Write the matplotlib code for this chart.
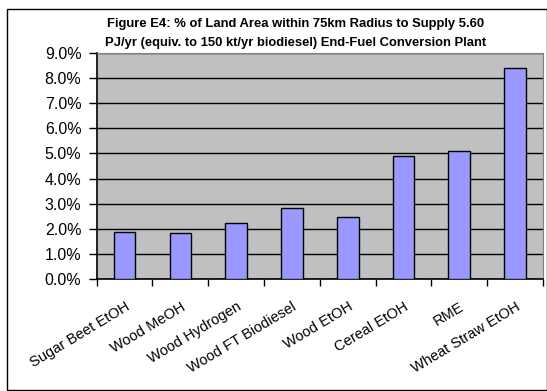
import numpy as np
import matplotlib.pyplot as plt
from matplotlib.patches import Rectangle
from matplotlib.transforms import ScaledTranslation

plt.rcParams['font.family'] = ['Liberation Sans', 'DejaVu Sans']

# data
fuels = ['Sugar Beet EtOH', 'Wood MeOH', 'Wood Hydrogen', 'Wood FT Biodiesel',
         'Wood EtOH', 'Cereal EtOH', 'RME', 'Wheat Straw EtOH']
land_pct = [1.88, 1.84, 2.24, 2.84, 2.47, 4.89, 5.08, 8.42]
yticks = np.arange(0, 10, 1)

W, H = 547, 391
fig = plt.figure(figsize=(W / 100, H / 100), dpi=100)

# outer chart frame
fig.patches.append(Rectangle((7 / W, 1 - 390 / H), 539.5 / W, 381 / H,
                             transform=fig.transFigure, fill=False,
                             edgecolor='black', linewidth=1.0))

ax = fig.add_axes([96.7 / W, 1 - 279 / H, 446.3 / W, 226 / H])
ax.set_facecolor('#C0C0C0')

x = np.arange(len(fuels))
ax.bar(x, land_pct, width=0.39, color='#9999FF', edgecolor='black',
       linewidth=1.0, zorder=3)

ax.set_xlim(-0.5, len(fuels) - 0.5)
ax.set_ylim(0, 9)
ax.set_yticks(yticks)
ax.set_yticklabels(['%.1f%%' % v for v in yticks], fontsize=11.5)
ax.yaxis.grid(True, color='black', linewidth=1.0, zorder=1)
ax.set_axisbelow(True)

# category ticks sit between the bars, labels under the bar centres
ax.set_xticks(np.arange(len(fuels) + 1) - 0.5)
ax.set_xticklabels([])
ax.set_xticks(x, minor=True)
ax.set_xticklabels(fuels, minor=True, rotation=31, ha='right',
                   rotation_mode='anchor', fontsize=10.5)
shift = ScaledTranslation(-5 / 72, 0, fig.dpi_scale_trans)
for lbl in ax.get_xticklabels(minor=True):
    lbl.set_transform(lbl.get_transform() + shift)
ax.tick_params(axis='x', which='minor', length=0, pad=15)
ax.tick_params(axis='x', which='major', length=5, width=1, direction='out')
ax.tick_params(axis='y', length=6, width=1, direction='out', pad=5)

for s in ['top', 'right']:
    ax.spines[s].set_color('#808080')
for s in ['left', 'bottom']:
    ax.spines[s].set_color('black')
    ax.spines[s].set_linewidth(1.2)

fig.text(0.54, 1 - 24 / H,
         'Figure E4: % of Land Area within 75km Radius to Supply 5.60',
         ha='center', va='center', fontsize=9.4, fontweight='bold')
fig.text(0.54, 1 - 43 / H,
         'PJ/yr (equiv. to 150 kt/yr biodiesel) End-Fuel Conversion Plant',
         ha='center', va='center', fontsize=9.4, fontweight='bold')

fig.savefig('out.png', dpi=100)
